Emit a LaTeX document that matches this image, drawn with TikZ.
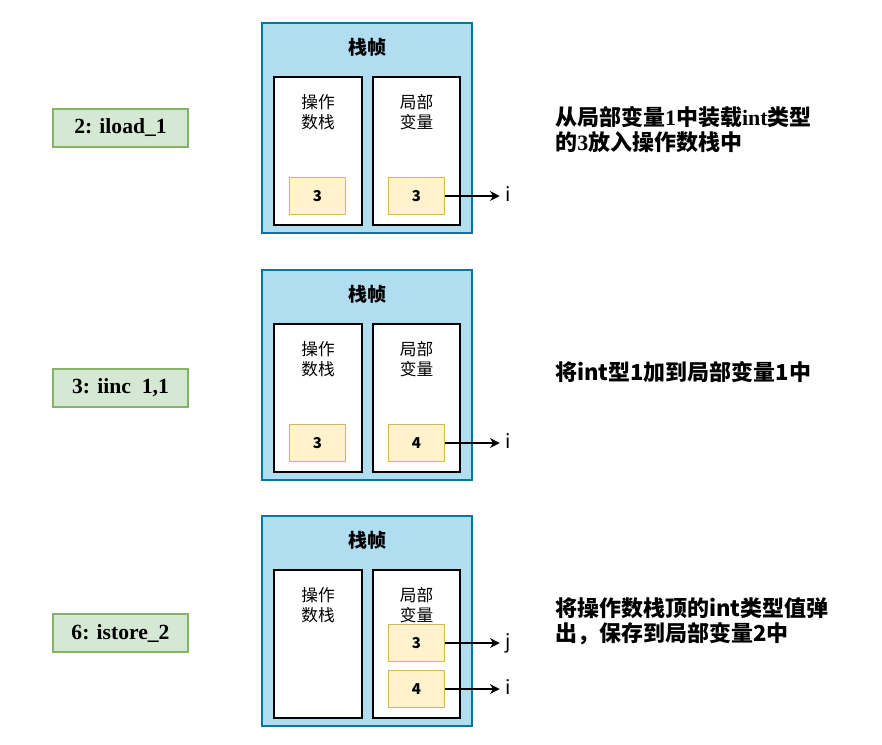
\documentclass[tikz,border=0pt]{standalone}
\usepackage{fontspec}
\setmainfont{Liberation Serif}
\newfontfamily\cjk{Noto Sans CJK SC}
\usetikzlibrary{arrows.meta,positioning}
\definecolor{Frame}{HTML}{B1DDF0}
\definecolor{FrameLine}{HTML}{10739E}
\definecolor{Cell}{HTML}{FFF2CC}
\definecolor{CellLine}{HTML}{D6B656}
\definecolor{Op}{HTML}{D5E8D4}
\definecolor{OpLine}{HTML}{82B366}
\tikzset{
  frame/.style={draw=FrameLine,fill=Frame,line width=0.7pt},
  area/.style={draw=black,fill=white,line width=0.8pt},
  cell/.style={draw=CellLine,fill=Cell,line width=0.5pt,minimum width=1.12cm,
    minimum height=0.74cm,inner sep=0pt,font=\cjk\bfseries\fontsize{8.5}{10}\selectfont},
  op/.style={draw=OpLine,fill=Op,line width=0.6pt,minimum width=2.7cm,
    minimum height=0.76cm,inner sep=0pt,font=\bfseries\fontsize{12.3}{14}\selectfont},
  var/.style={anchor=west,inner sep=0pt,text height=0.75em,text depth=0.15em,
    font=\cjk\fontsize{11}{12}\selectfont},
  ref/.style={-{Stealth[length=5.5pt,width=5.5pt]},line width=0.7pt},
  note/.style={anchor=west,align=left,inner sep=0pt,
    font=\cjk\bfseries\fontsize{12.5}{14.2}\selectfont}
}

\begin{document}
\begin{tikzpicture}[x=0.02cm,y=-0.02cm]
  \useasboundingbox (0,0) rectangle (882,744);
  \foreach \top [count=\p] in {23,270,516}{
    \draw[frame] (262,\top) rectangle (472,\top+210);
    \draw[area] (274,\top+54) rectangle (362,\top+202);
    \draw[area] (373,\top+54) rectangle (460,\top+202);
    \node[font=\cjk\bfseries\fontsize{10.8}{12}\selectfont] (title\p) at (367,\top+24) {栈帧};
    \node[align=center,font=\cjk\fontsize{9.5}{11.3}\selectfont] (opstack\p) at (318,\top+89) {操作\\数栈};
    \node[align=center,font=\cjk\fontsize{9.5}{11.3}\selectfont] (locals\p) at (416.5,\top+89) {局部\\变量};
  }

  % 2: iload_1
  \node[op] (op1) at (120.5,128) {2: iload\_1};
  \node[cell] (s1) at (317.5,196) {3};
  \node[cell] (v1) at (416.5,196) {3};
  \node[var] (i1) at (505,196) {i};
  \draw[ref] (v1.east) -- ([xshift=-3pt]i1.west);
  \node[note] (n1) at (555,130)
    {从局部变量{\rmfamily 1}中装载{\rmfamily int}类型\\的{\rmfamily 3}放入操作数栈中};

  % 3: iinc 1,1
  \node[op] (op2) at (120.5,388) {3: iinc\ \ 1,1};
  \node[cell] (s2) at (317.5,443) {3};
  \node[cell] (v2) at (416.5,443) {4};
  \node[var] (i2) at (505,443) {i};
  \draw[ref] (v2.east) -- ([xshift=-3pt]i2.west);
  \node[note] (n2) at (555,372) {将int型1加到局部变量1中};

  % 6: istore_2
  \node[op] (op3) at (120.5,633) {6: istore\_2};
  \node[cell] (v3) at (416.5,643) {3};
  \node[cell] (v4) at (416.5,689) {4};
  \node[var] (j3) at (505,643) {j};
  \node[var] (i3) at (505,689) {i};
  \draw[ref] (v3.east) -- ([xshift=-3pt]j3.west);
  \draw[ref] (v4.east) -- ([xshift=-3pt]i3.west);
  \node[note] (n3) at (555,621) {将操作数栈顶的int类型值弹\\出，保存到局部变量2中};
\end{tikzpicture}
\end{document}
